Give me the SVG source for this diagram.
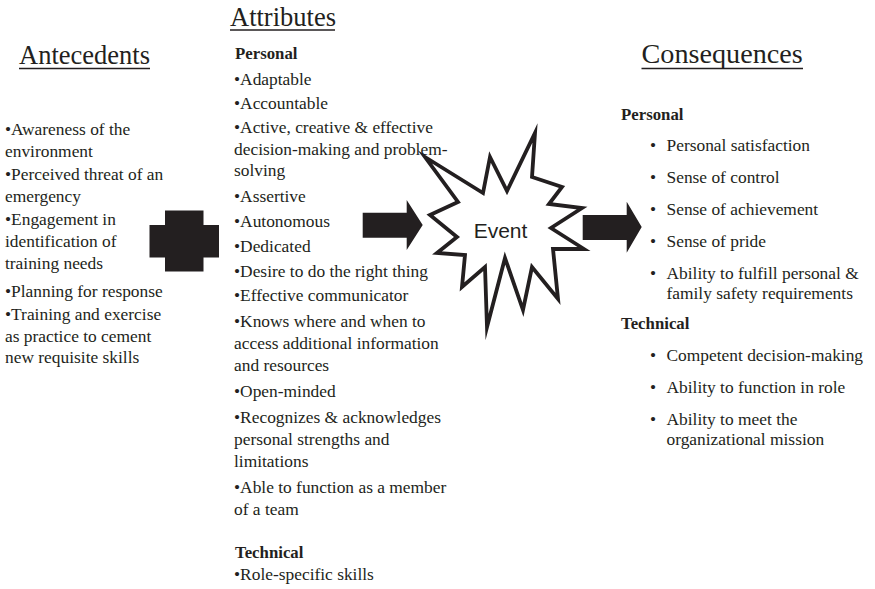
<svg xmlns="http://www.w3.org/2000/svg" width="875" height="589" viewBox="0 0 875 589">
<style>
text{font-family:"Liberation Serif","Times New Roman",serif;fill:#231f20}
.t{font-size:26.5px}
.b{font-size:17.4px}
.h{font-size:16.8px;font-weight:bold}
.ev{font-family:"Liberation Sans",Arial,sans-serif;font-size:21px}
.ul{stroke:#231f20;stroke-width:1.4}
.blk{fill:#231f20}
</style>
<rect width="875" height="589" fill="#fff"/>
<g id="antecedents">
<text class="t" x="19" y="64">Antecedents</text>
<line class="ul" x1="19" y1="68.5" x2="150" y2="68.5"/>
<text class="b" x="5" y="135">•Awareness of the</text>
<text class="b" x="5" y="157">environment</text>
<text class="b" x="5" y="180">•Perceived threat of an</text>
<text class="b" x="5" y="202">emergency</text>
<text class="b" x="5" y="225">•Engagement in</text>
<text class="b" x="5" y="247">identification of</text>
<text class="b" x="5" y="269">training needs</text>
<text class="b" x="5" y="297">•Planning for response</text>
<text class="b" x="5" y="320">•Training and exercise</text>
<text class="b" x="5" y="342">as practice to cement</text>
<text class="b" x="5" y="363">new requisite skills</text>
</g>
<g id="plus">
<path class="blk" d="M165 210.5H203.5V225H219V257.5H203.5V271.5H165V257.5H149.5V225H165Z"/>
</g>
<g id="attributes">
<text class="t" x="230" y="25.5">Attributes</text>
<line class="ul" x1="230" y1="30" x2="335" y2="30"/>
<text class="h" x="235" y="59">Personal</text>
<text class="b" x="234" y="85">•Adaptable</text>
<text class="b" x="234" y="109">•Accountable</text>
<text class="b" x="234" y="133">•Active, creative &amp; effective</text>
<text class="b" x="234" y="155">decision-making and problem-</text>
<text class="b" x="234" y="176">solving</text>
<text class="b" x="234" y="202">•Assertive</text>
<text class="b" x="234" y="227">•Autonomous</text>
<text class="b" x="234" y="252">•Dedicated</text>
<text class="b" x="234" y="277">•Desire to do the right thing</text>
<text class="b" x="234" y="301">•Effective communicator</text>
<text class="b" x="234" y="327">•Knows where and when to</text>
<text class="b" x="234" y="349">access additional information</text>
<text class="b" x="234" y="371">and resources</text>
<text class="b" x="234" y="397">•Open-minded</text>
<text class="b" x="234" y="423">•Recognizes &amp; acknowledges</text>
<text class="b" x="234" y="445">personal strengths and</text>
<text class="b" x="234" y="467">limitations</text>
<text class="b" x="234" y="493">•Able to function as a member</text>
<text class="b" x="234" y="515">of a team</text>
<text class="h" x="235" y="558">Technical</text>
<text class="b" x="234" y="580">•Role-specific skills</text>
</g>
<g id="event">
<polygon points="425,157 483,193 490,157 507,191 535,133 532,177 562,187 549,204 582,208 551,228 584,249 553,249 558,299 532,267 523,310 505,258 487,327 485,267 462,287 465,255 437,253 457,237 430,215 458,202" fill="#fff" stroke="#231f20" stroke-width="3.8" stroke-linejoin="miter" stroke-miterlimit="10"/>
<text class="ev" x="500.5" y="238" text-anchor="middle">Event</text>
</g>
<g id="connectors">
<path id="arrow1" class="blk" d="M362.7 212.7H406.7V200L422.7 225L406.7 250V237.7H362.7Z"/>
<path id="arrow2" class="blk" d="M582.7 215H626.7V201.7L641.7 227L626.7 252.7V240H582.7Z"/>
</g>
<g id="consequences">
<text class="t" x="641.5" y="63" style="font-size:28.2px">Consequences</text>
<line class="ul" x1="641.5" y1="68.5" x2="803" y2="68.5"/>
<text class="h" x="621" y="120">Personal</text>
<text class="b" x="650" y="151">•</text>
<text class="b" x="650" y="183">•</text>
<text class="b" x="650" y="215">•</text>
<text class="b" x="650" y="247">•</text>
<text class="b" x="650" y="279">•</text>
<text class="b" x="650" y="361">•</text>
<text class="b" x="650" y="393">•</text>
<text class="b" x="650" y="425">•</text>
<text class="b" x="666.5" y="151">Personal satisfaction</text>
<text class="b" x="666.5" y="183">Sense of control</text>
<text class="b" x="666.5" y="215">Sense of achievement</text>
<text class="b" x="666.5" y="247">Sense of pride</text>
<text class="b" x="666.5" y="279">Ability to fulfill personal &amp;</text>
<text class="b" x="666.5" y="299">family safety requirements</text>
<text class="h" x="621" y="329">Technical</text>
<text class="b" x="666.5" y="361">Competent decision-making</text>
<text class="b" x="666.5" y="393">Ability to function in role</text>
<text class="b" x="666.5" y="425">Ability to meet the</text>
<text class="b" x="666.5" y="445">organizational mission</text>
</g>
</svg>
